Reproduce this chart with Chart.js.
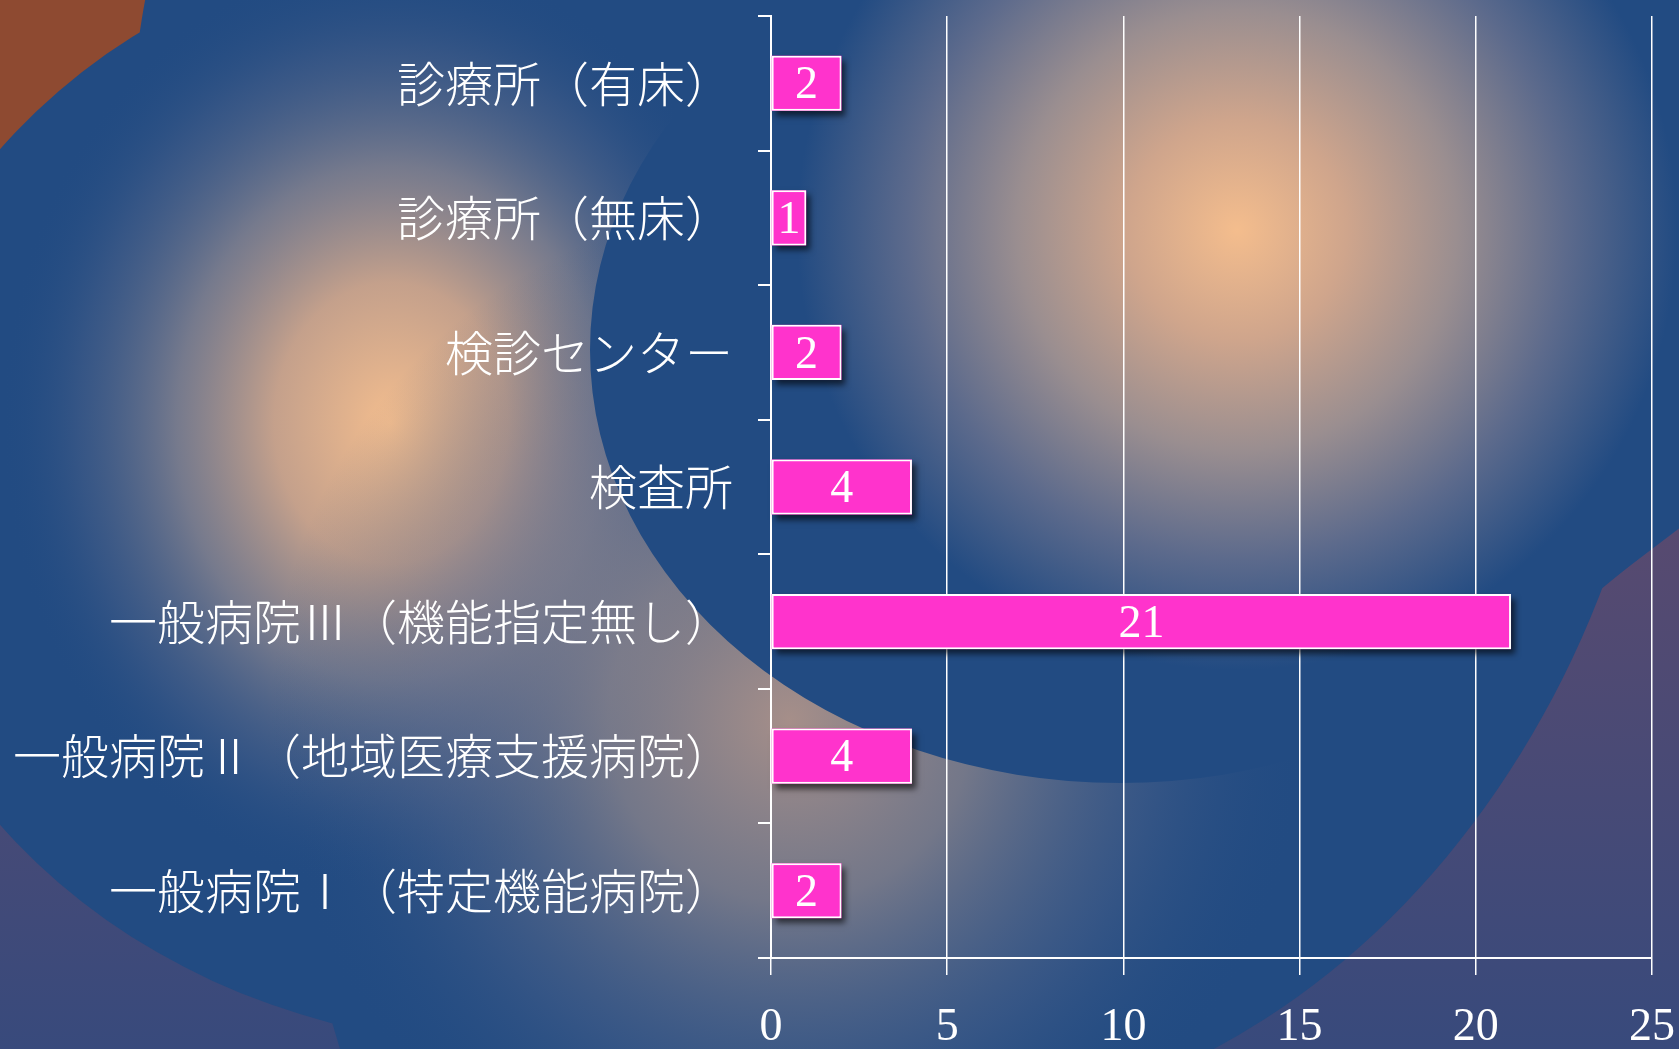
<!DOCTYPE html>
<html>
<head>
<meta charset="utf-8">
<script src="https://cdn.jsdelivr.net/npm/chart.js@4.4.1/dist/chart.umd.min.js"></script>
<style>
  html, body { margin: 0; padding: 0; background: #224b82; overflow: hidden; }
  #wrap { position: relative; width: 1679px; height: 1049px; }
</style>
</head>
<body>
<div id="wrap"><canvas id="facilityChart"></canvas></div>
<script>
const categories = [
  "診療所（有床）",
  "診療所（無床）",
  "検診センター",
  "検査所",
  "一般病院Ⅲ（機能指定無し）",
  "一般病院Ⅱ（地域医療支援病院）",
  "一般病院Ⅰ（特定機能病院）"
];
const counts = [2, 1, 2, 4, 21, 4, 2];
const axisMin = 0;
const axisMax = 25;
const axisStep = 5;

const serif = "'Liberation Serif', 'Times New Roman', serif";
const gothic = "'Noto Sans CJK JP', 'Noto Sans', sans-serif";

function ellipsePath(ctx, cx, cy, rx, ry) {
  ctx.moveTo(cx + rx, cy);
  ctx.ellipse(cx, cy, rx, ry, 0, 0, Math.PI * 2);
}

function polyPath(ctx, pts) {
  ctx.moveTo(pts[0][0], pts[0][1]);
  pts.slice(1).forEach(p => ctx.lineTo(p[0], p[1]));
  ctx.closePath();
}

// radial light, stretched vertically by sy
function glow(ctx, x, y, r, sy, stops) {
  ctx.save();
  ctx.translate(x, y);
  ctx.scale(1, sy);
  const g = ctx.createRadialGradient(0, 0, 0, 0, 0, r);
  stops.forEach(s => g.addColorStop(s[0], s[1]));
  ctx.fillStyle = g;
  ctx.fillRect(-r, -r, r * 2, r * 2);
  ctx.restore();
}

// slide style backdrop: blue shapes with soft peach lights
const backdrop = {
  id: "backdrop",
  beforeDraw(chart) {
    const ctx = chart.ctx;
    const w = chart.width, h = chart.height;
    ctx.save();
    let base = ctx.createLinearGradient(0, 450, 0, h);
    base.addColorStop(0, "#5c4a6e");
    base.addColorStop(1, "#384a7c");
    ctx.fillStyle = base;
    ctx.fillRect(0, 0, w, h);

    // brown corner top left
    ctx.fillStyle = "#8e4a31";
    ctx.beginPath();
    ctx.moveTo(0, 0); ctx.lineTo(450, 0); ctx.lineTo(0, 450); ctx.closePath();
    ctx.fill();

    // main blue area (all sub paths clockwise so they union)
    ctx.beginPath();
    ellipsePath(ctx, 520, 487, 652, 560);
    ellipsePath(ctx, 900, 200, 773, 929);
    polyPath(ctx, [[1500, 0], [1679, 0], [1679, 525], [1600, 590], [1500, 400]]);
    polyPath(ctx, [[321, 985], [600, 880], [1000, 1049], [340, 1049]]);
    ctx.fillStyle = "#224b82";
    ctx.fill();
    ctx.save();
    ctx.clip();
    glow(ctx, 391, 423, 390, 1.2, [
      [0, "rgba(243,189,142,1)"],
      [0.3, "rgba(205,165,140,0.95)"],
      [0.55, "rgba(150,140,145,0.72)"],
      [0.8, "rgba(90,105,140,0.35)"],
      [1, "rgba(34,75,130,0)"]
    ]);
    glow(ctx, 790, 720, 520, 1, [
      [0, "rgba(180,150,138,0.9)"],
      [0.35, "rgba(150,138,140,0.7)"],
      [0.7, "rgba(90,105,140,0.35)"],
      [1, "rgba(34,75,130,0)"]
    ]);
    ctx.restore();

    // right disc with its own light, open to the right edge
    ctx.beginPath();
    ellipsePath(ctx, 1120, 350, 530, 433);
    polyPath(ctx, [[1300, -10], [1690, -10], [1690, 520], [1606, 584], [1445, 688], [1300, 745]]);
    const g = ctx.createRadialGradient(1237, 230, 0, 1237, 230, 440);
    g.addColorStop(0, "#f4bd8d");
    g.addColorStop(0.25, "#cfa58c");
    g.addColorStop(0.5, "#9a8e90");
    g.addColorStop(0.75, "#5c6a8c");
    g.addColorStop(1, "#224b82");
    ctx.fillStyle = g;
    ctx.fill();
    ctx.restore();
  }
};

// shadow under the bars + value labels inside them
const barDecor = {
  id: "barDecor",
  beforeDatasetsDraw(chart) {
    // bar elements clip their own drawing, so cast the shadow first
    const ctx = chart.ctx;
    ctx.save();
    ctx.shadowColor = "rgba(0,0,0,0.6)";
    ctx.shadowOffsetX = 4;
    ctx.shadowOffsetY = 5;
    ctx.shadowBlur = 6;
    ctx.fillStyle = "#ff33cc";
    chart.getDatasetMeta(0).data.forEach(bar => {
      const left = Math.min(bar.x, bar.base);
      ctx.fillRect(left, bar.y - bar.height / 2, Math.abs(bar.x - bar.base), bar.height);
    });
    ctx.restore();
  },
  afterDatasetsDraw(chart) {
    const ctx = chart.ctx;
    ctx.save();
    ctx.fillStyle = "#ffffff";
    ctx.font = "46px " + serif;
    ctx.textAlign = "center";
    ctx.textBaseline = "middle";
    chart.getDatasetMeta(0).data.forEach((bar, i) => {
      ctx.fillText(String(counts[i]), (bar.x + bar.base) / 2, bar.y + 3);
    });
    ctx.restore();
  }
};

const chart = new Chart(document.getElementById("facilityChart"), {
  type: "bar",
  data: {
    labels: categories,
    datasets: [{
      data: counts,
      backgroundColor: "#ff33cc",
      borderColor: "#ffffff",
      borderWidth: 2,
      borderSkipped: false,
      categoryPercentage: 1,
      barPercentage: 0.41
    }]
  },
  options: {
    indexAxis: "y",
    responsive: true,
    maintainAspectRatio: false,
    animation: false,
    layout: { padding: { top: 16, right: 27, left: 0, bottom: 0 } },
    plugins: { legend: { display: false }, tooltip: { enabled: false } },
    scales: {
      x: {
        min: axisMin,
        max: axisMax,
        ticks: { stepSize: axisStep, color: "#ffffff", font: { family: serif, size: 46 }, padding: 25 },
        grid: { color: "#ffffff", lineWidth: 1.5, tickLength: 17 },
        border: { color: "#ffffff", width: 2 },
        afterFit(s) { s.height = 91; s.paddingLeft = 0; s.paddingRight = 0; }
      },
      y: {
        ticks: { color: "#ffffff", font: { family: gothic, size: 48, weight: 300 }, padding: 25 },
        grid: { drawOnChartArea: false, offset: true, tickLength: 13, color: "#ffffff", lineWidth: 2 },
        border: { color: "#ffffff", width: 2 },
        afterFit(s) { s.width = 771; s.paddingTop = 0; s.paddingBottom = 0; }
      }
    }
  },
  plugins: [backdrop, barDecor]
});
</script>
</body>
</html>
